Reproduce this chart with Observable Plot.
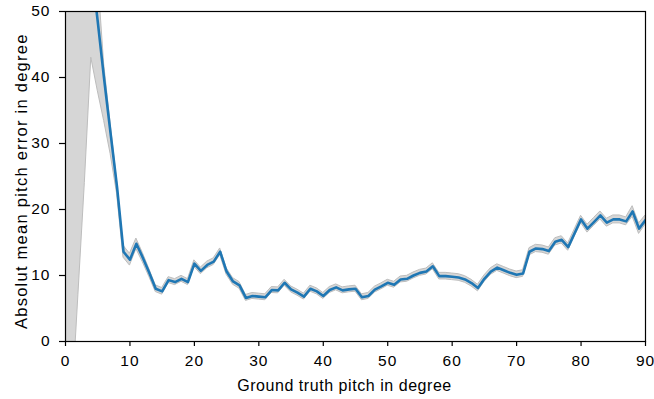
<!DOCTYPE html>
<html>
<head>
<meta charset="utf-8">
<script src="https://cdn.jsdelivr.net/npm/d3@7"></script>
<script src="https://cdn.jsdelivr.net/npm/@observablehq/plot@0.6"></script>
<style>
  html, body { margin: 0; padding: 0; background: #fff; }
  #chart svg { display: block; }
</style>
</head>
<body>
<div id="chart"></div>
<script>
const pitch = d3.range(0, 91); // ground truth pitch 0..90 degrees

const meanError = [
  85, 78, 70, 63, 57, 48.5, 39.7, 31.5, 23.4, 13.6,
  12.4, 14.8, 12.7, 10.4, 8.0, 7.6, 9.3, 9.0, 9.5, 9.0,
  11.8, 10.7, 11.6, 12.1, 13.6, 10.6, 9.1, 8.5, 6.6, 6.9,
  6.8, 6.7, 7.8, 7.75, 8.9, 7.9, 7.4, 6.8, 8.0, 7.6,
  6.9, 7.8, 8.2, 7.75, 7.9, 8.0, 6.7, 6.9, 7.85, 8.35,
  8.9, 8.6, 9.4, 9.5, 10.0, 10.4, 10.6, 11.4, 9.9, 9.9,
  9.8, 9.7, 9.4, 8.85, 8.1, 9.5, 10.6, 11.2, 10.8, 10.4,
  10.1, 10.3, 13.6, 14.1, 14.0, 13.7, 15.1, 15.4, 14.3, 16.4,
  18.5, 17.1, 18.1, 19.1, 18.0, 18.5, 18.5, 18.2, 19.7, 17.1,
  18.4
];

const ciLower = [
  -30, -10, 7, 24, 43, 38, 33.4, 28.4, 22.4, 12.7,
  11.5, 14.0, 12.0, 9.8, 7.5, 7.1, 8.85, 8.55, 9.05, 8.55,
  11.3, 10.2, 11.1, 11.6, 13.1, 10.1, 8.6, 8.0, 6.15, 6.45,
  6.35, 6.25, 7.35, 7.3, 8.45, 7.45, 6.95, 6.35, 7.55, 7.15,
  6.45, 7.35, 7.75, 7.3, 7.45, 7.55, 6.25, 6.45, 7.4, 7.9,
  8.45, 8.15, 8.95, 9.05, 9.55, 9.95, 10.15, 10.95, 9.4, 9.4,
  9.3, 9.2, 8.9, 8.35, 7.6, 9.0, 10.1, 10.7, 10.3, 9.9,
  9.6, 9.8, 13.05, 13.55, 13.45, 13.15, 14.55, 14.85, 13.75, 15.85,
  17.95, 16.5, 17.5, 18.5, 17.4, 17.9, 17.9, 17.6, 18.9, 16.3,
  17.7
];

const ciUpper = [
  140, 125, 110, 95, 72, 56, 42, 33, 24.3, 14.5,
  13.3, 15.6, 13.4, 11.0, 8.5, 8.1, 9.75, 9.45, 9.95, 9.45,
  12.3, 11.2, 12.1, 12.6, 14.1, 11.1, 9.6, 9.0, 7.05, 7.35,
  7.25, 7.15, 8.25, 8.2, 9.35, 8.35, 7.85, 7.25, 8.45, 8.05,
  7.35, 8.25, 8.65, 8.2, 8.35, 8.45, 7.15, 7.35, 8.3, 8.8,
  9.35, 9.05, 9.85, 9.95, 10.45, 10.85, 11.05, 11.85, 10.4, 10.4,
  10.3, 10.2, 9.9, 9.35, 8.6, 10.0, 11.1, 11.7, 11.3, 10.9,
  10.6, 10.8, 14.15, 14.65, 14.55, 14.25, 15.65, 15.95, 14.85, 16.95,
  19.05, 17.7, 18.7, 19.7, 18.6, 19.1, 19.1, 18.8, 20.5, 17.9,
  19.1
];

const xTicks = [0, 10, 20, 30, 40, 50, 60, 70, 80, 90];
const yTicks = [0, 10, 20, 30, 40, 50];
const xLabel = "Ground truth pitch in degree";
const yLabel = "Absolut mean pitch error in degree";

const rows = pitch.map((p, i) => ({pitch: p, mean: meanError[i], lo: ciLower[i], hi: ciUpper[i]}));

const chart = Plot.plot({
  width: 654,
  height: 399,
  marginLeft: 65,
  marginRight: 9,
  marginTop: 11,
  marginBottom: 58,
  style: {fontFamily: "'Liberation Sans', Arial, sans-serif", fontSize: "15.5px", color: "black", background: "white"},
  x: {domain: [0, 90]},
  y: {domain: [0, 50]},
  marks: [
    Plot.areaY(rows, {x: "pitch", y1: "lo", y2: "hi", fill: "#d6d6d6", stroke: "#bdbdbd", strokeWidth: 1, clip: true}),
    Plot.lineY(rows, {x: "pitch", y: "mean", stroke: "#1f77b4", strokeWidth: 2.6, clip: true}),
    Plot.frame({stroke: "black", strokeWidth: 1.2}),
    Plot.axisX({ticks: xTicks, tickSize: 5, tickPadding: 8, label: null, stroke: "black", strokeWidth: 1.2, fontSize: 15.5}),
    Plot.axisY({ticks: yTicks, tickSize: 6, tickPadding: 9, label: null, stroke: "black", strokeWidth: 1.2, fontSize: 15.5}),
    Plot.text([xLabel], {frameAnchor: "bottom", dx: -11, dy: 44, textAnchor: "middle", lineAnchor: "middle", fontSize: 16, fill: "black", className: "xlab"}),
    Plot.text([yLabel], {frameAnchor: "left", dx: -44, dy: 4.7, rotate: -90, textAnchor: "middle", lineAnchor: "middle", fontSize: 16.5, fill: "black", className: "ylab"})
  ]
});
// letter spacing to match the wider glyph rendering of the reference
d3.select(chart).selectAll("g[aria-label='x-axis tick label'] text, g[aria-label='y-axis tick label'] text").style("letter-spacing", "1px");
d3.select(chart).selectAll(".xlab text").style("letter-spacing", "0.55px");
d3.select(chart).selectAll(".ylab text").style("letter-spacing", "1.25px");
document.getElementById("chart").appendChild(chart);
</script>
</body>
</html>
